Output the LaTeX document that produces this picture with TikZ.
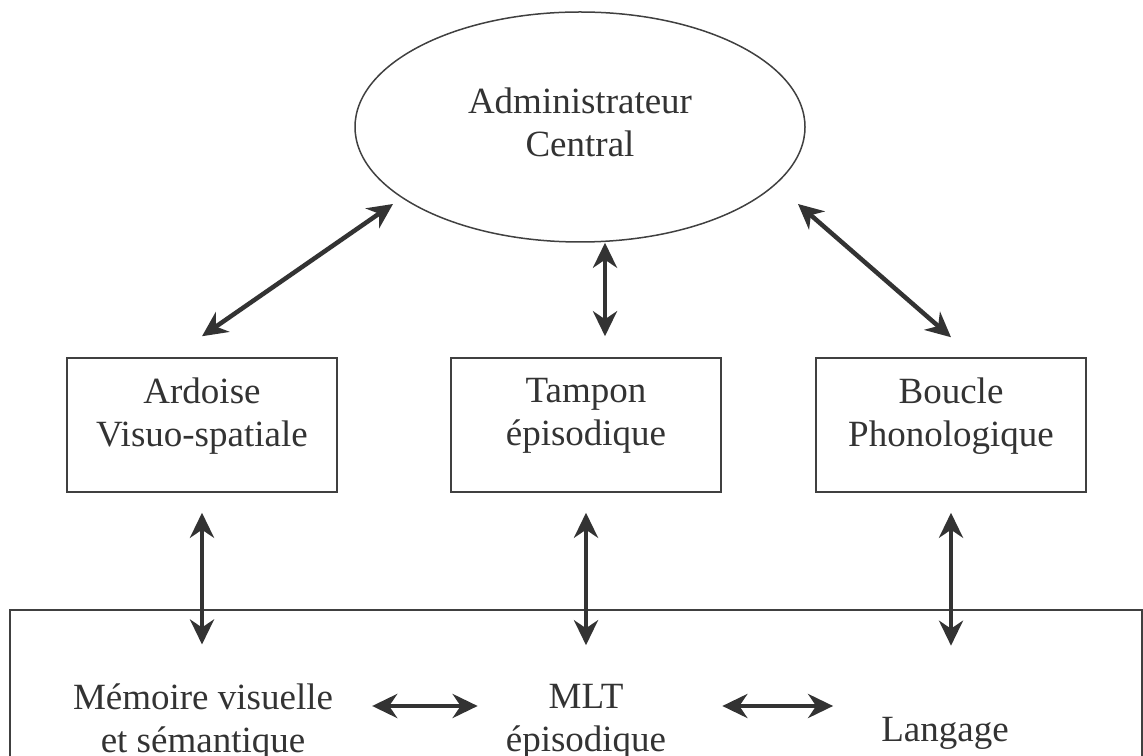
\documentclass[tikz,border=0pt]{standalone}
\usepackage{fontspec}
\setmainfont{Liberation Serif}
\usetikzlibrary{shapes.geometric,arrows.meta}

\begin{document}
\begin{tikzpicture}[x=1pt,y=1pt,font=\fontsize{37}{43}\selectfont,
  boite/.style={draw=black!75,line width=1.5pt,minimum width=270pt,minimum height=134pt,
    align=center,text=black!80,text depth=26pt,inner sep=0pt},
  texte/.style={align=center,inner sep=0pt,text=black!80},
  fleche/.style={black!80,line width=4.5pt,
    {Stealth[length=25pt,width=24pt,inset=8pt]}-{Stealth[length=25pt,width=24pt,inset=8pt]}}]
\useasboundingbox (0,0) rectangle (1143,755);
\clip (0,0) rectangle (1143,755);
% composantes
\node[draw=black!75,line width=1.5pt,ellipse,minimum width=450pt,minimum height=230pt,
  align=center,text=black!80,text depth=9pt] (ce) at (580,628) {Administrateur\\Central};
\node[boite] (ard) at (202,330) {Ardoise\\Visuo-spatiale};
\node[boite] (tam) at (586,330) {Tampon\\épisodique};
\node[boite] (bou) at (951,330) {Boucle\\Phonologique};
% memoire a long terme
\draw[black!75,line width=1.5pt] (10,145) rectangle (1142,-60);
\node[texte] (mem) at (203,33) {Mémoire visuelle\\et sémantique};
\node[texte] (mlt) at (586,33) {MLT\\épisodique};
\node[texte] (lang) at (945,22) {Langage};
% liens
\draw[fleche] ([shift={(-187,-77)}]ce.center) -- ([yshift=21pt]ard.north);
\draw[fleche] ([xshift=25pt]ce.south) -- ([xshift=19pt,yshift=21pt]tam.north);
\draw[fleche] ([shift={(218,-77)}]ce.center) -- ([yshift=20pt]bou.north);
\foreach \b/\t/\s in {ard/mem/39pt,tam/mlt/39pt,bou/lang/71pt}{
  \draw[fleche,shorten <=20pt,shorten >=\s] (\b.south) -- (\b.south |- \t.north);}
\draw[fleche,shorten <=39pt,shorten >=28pt] ([yshift=16pt]mem.east) -- ([yshift=16pt]mlt.west);
\draw[fleche,shorten <=56pt,shorten >=48pt] ([yshift=16pt]mlt.east) -- ([yshift=16pt]mlt.east -| lang.west);
\end{tikzpicture}
\end{document}
